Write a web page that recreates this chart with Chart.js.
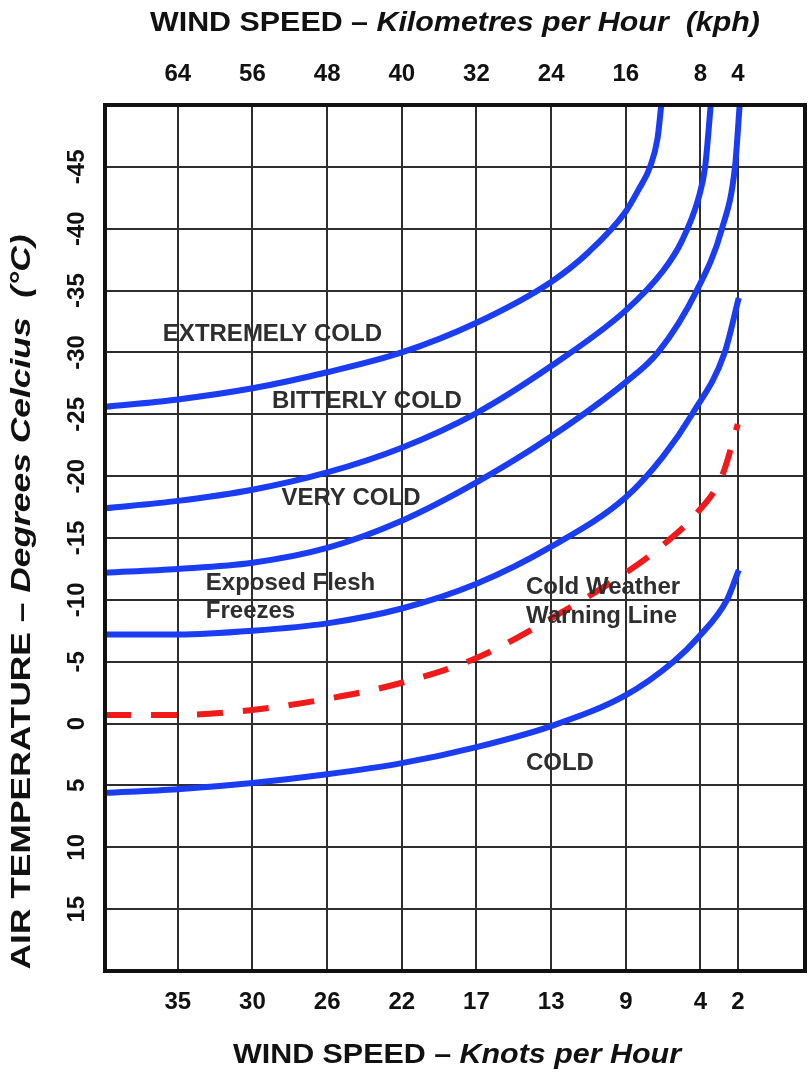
<!DOCTYPE html>
<html>
<head>
<meta charset="utf-8">
<script src="https://cdn.jsdelivr.net/npm/chart.js@4.4.1/dist/chart.umd.min.js"></script>
<style>
  html, body { margin: 0; padding: 0; background: #ffffff; }
  canvas { display: block; }
</style>
</head>
<body>
<canvas id="chart" width="809" height="1072"></canvas>
<script>
// ---------- DATA ----------
const kphTicks  = [64, 56, 48, 40, 32, 24, 16, 8, 4];
const knotTicks = [35, 30, 26, 22, 17, 13, 9, 4, 2];
const tempTicks = [-45, -40, -35, -30, -25, -20, -15, -10, -5, 0, 5, 10, 15];

const extremeKph  = [71.8, 64, 56, 48, 40, 32, 24, 20, 16, 14.6, 13.4, 12.6, 12.2];
const extremeTemp = [-25.6, -26.2, -27.1, -28.4, -30.0, -32.4, -35.7, -38.1, -41.4, -43.2, -45.0, -47.3, -50.0];

const bitterKph  = [71.8, 64, 56, 48, 40, 32, 24, 16, 12, 10, 8.2, 7.5, 6.9];
const bitterTemp = [-17.4, -18.0, -18.9, -20.3, -22.3, -25.1, -28.9, -33.4, -36.6, -39.0, -42.5, -45.0, -50.0];

const veryKph  = [71.8, 64, 56, 48, 40, 32, 24, 16, 12.55, 8.4, 5.7, 4.3, 3.8];
const veryTemp = [-12.2, -12.5, -13.0, -14.2, -16.4, -19.5, -23.2, -27.6, -30.0, -35.0, -40.0, -45.0, -50.0];

const fleshKph  = [71.8, 64, 56, 48, 40, 32, 24, 16, 12, 8.9, 5.4, 3.9];
const fleshTemp = [-7.2, -7.2, -7.5, -8.1, -9.3, -11.3, -14.3, -18.3, -21.6, -25.0, -30.0, -34.4];

const warnKph  = [71.8, 64, 56, 48, 40, 32, 24, 16, 12.4, 8.4, 5.7, 4.0];
const warnTemp = [-0.7, -0.7, -1.1, -2.0, -3.3, -5.3, -8.5, -12.2, -14.2, -17.0, -20.0, -24.2];

const coldKph  = [71.8, 64, 56, 48, 40, 32, 24, 16, 10.9, 8.2, 5.16, 3.9];
const coldTemp = [5.6, 5.3, 4.8, 4.1, 3.2, 1.9, 0.2, -2.3, -5.0, -7.0, -10.0, -12.4];

const noteLabels = ['EXTREMELY COLD', 'BITTERLY COLD', 'VERY COLD', 'Exposed Flesh', 'Freezes', 'Cold Weather', 'Warning Line', 'COLD'];
const noteKph    = [65.6, 53.9, 52.9, 61.0, 61.0, 26.7, 26.7, 26.7];
const noteTemp   = [-30.9, -25.5, -17.7, -10.8, -8.5, -10.5, -8.1, 3.75];

const topTitle    = ['WIND SPEED \u2013 ', 'Kilometres per Hour  (kph)'];
const bottomTitle = ['WIND SPEED \u2013 ', 'Knots per Hour'];
const leftTitle   = ['AIR TEMPERATURE \u2013 ', 'Degrees Celcius  (\u00B0C)'];

// ---------- STYLE ----------
const FAMILY = "'Liberation Sans', Arial, Helvetica, sans-serif";
const BLUE = '#1a3cf2';
const RED = '#f01a1a';
const GRID = '#2e2e2e';
const TEXT = '#111111';

function pts(xs, ys) { return xs.map((x, i) => ({ x: x, y: ys[i] })); }

function curve(xs, ys, color, dash) {
  return {
    data: pts(xs, ys),
    borderColor: color,
    borderWidth: 6,
    borderDash: dash || [],
    borderCapStyle: 'butt',
    pointRadius: 0,
    fill: false,
    cubicInterpolationMode: 'monotone',
    xAxisID: 'x',
    yAxisID: 'y'
  };
}

function drawMixed(ctx, parts, cx, cy, width, rot, size) {
  ctx.save();
  const fonts = ['bold ' + size + 'px ' + FAMILY, 'italic bold ' + size + 'px ' + FAMILY];
  let total = 0;
  const widths = parts.map((t, i) => { ctx.font = fonts[i]; const w = ctx.measureText(t).width; total += w; return w; });
  ctx.translate(cx, cy);
  ctx.rotate(rot);
  ctx.scale(width / total, 1);
  ctx.textBaseline = 'middle';
  ctx.textAlign = 'left';
  ctx.fillStyle = TEXT;
  let x = -total / 2;
  parts.forEach((t, i) => { ctx.font = fonts[i]; ctx.fillText(t, x, 0); x += widths[i]; });
  ctx.restore();
}

const decorPlugin = {
  id: 'decor',
  afterDatasetsDraw(chart) {
    const ctx = chart.ctx;
    const xs = chart.scales.x, ys = chart.scales.y;
    ctx.save();
    ctx.font = 'bold 24px ' + FAMILY;
    ctx.fillStyle = '#2e2e2e';
    ctx.textAlign = 'left';
    ctx.textBaseline = 'alphabetic';
    noteLabels.forEach((t, i) => {
      ctx.fillText(t, xs.getPixelForValue(noteKph[i]), ys.getPixelForValue(noteTemp[i]));
    });
    ctx.restore();
  },
  afterDraw(chart) {
    const ctx = chart.ctx;
    const a = chart.chartArea;
    ctx.save();
    ctx.strokeStyle = '#111';
    ctx.lineWidth = 4;
    ctx.strokeRect(a.left, a.top, a.right - a.left, a.bottom - a.top);
    ctx.restore();
    const cx = (a.left + a.right) / 2;
    drawMixed(ctx, topTitle, cx, 23, 610, 0, 28);
    drawMixed(ctx, bottomTitle, cx + 2, 1055, 448, 0, 28);
    drawMixed(ctx, leftTitle, 22, 602, 735, -Math.PI / 2, 28);
  }
};

const tickFont = { family: FAMILY, size: 24, weight: 'bold' };

new Chart(document.getElementById('chart'), {
  type: 'line',
  data: {
    datasets: [
      curve(extremeKph, extremeTemp, BLUE),
      curve(bitterKph, bitterTemp, BLUE),
      curve(veryKph, veryTemp, BLUE),
      curve(fleshKph, fleshTemp, BLUE),
      curve(warnKph, warnTemp, RED, [26, 20]),
      curve(coldKph, coldTemp, BLUE)
    ]
  },
  options: {
    responsive: false,
    animation: false,
    events: [],
    layout: { padding: { left: 0, right: 4, top: 0, bottom: 0 } },
    plugins: { legend: { display: false }, tooltip: { enabled: false }, title: { display: false } },
    scales: {
      x: {
        type: 'linear',
        position: 'top',
        min: -3.2, max: 71.8,
        reverse: true,
        afterBuildTicks: s => { s.ticks = kphTicks.map(v => ({ value: v })); },
        afterFit: s => { s.height = 105; },
        ticks: { autoSkip: false, maxRotation: 0, minRotation: 0, padding: 16, color: TEXT, font: tickFont,
                 callback: (v, i) => String(kphTicks[i]) },
        grid: { color: GRID, lineWidth: 2, drawTicks: false },
        border: { display: false }
      },
      x2: {
        type: 'linear',
        position: 'bottom',
        min: -3.2, max: 71.8,
        reverse: true,
        afterBuildTicks: s => { s.ticks = kphTicks.map(v => ({ value: v })); },
        afterFit: s => { s.height = 101; },
        ticks: { autoSkip: false, maxRotation: 0, minRotation: 0, padding: 17, color: TEXT, font: tickFont,
                 callback: (v, i) => String(knotTicks[i]) },
        grid: { display: false, drawTicks: false },
        border: { display: false }
      },
      y: {
        type: 'linear',
        position: 'left',
        min: -50, max: 20,
        reverse: true,
        afterBuildTicks: s => { s.ticks = tempTicks.map(v => ({ value: v })); },
        afterFit: s => { s.width = 105; },
        ticks: { autoSkip: false, minRotation: 90, maxRotation: 90, crossAlign: 'center', padding: 10,
                 color: TEXT, font: tickFont, callback: (v, i) => String(tempTicks[i]) },
        grid: { color: GRID, lineWidth: 2, drawTicks: false },
        border: { display: false }
      }
    }
  },
  plugins: [decorPlugin]
});
</script>
</body>
</html>
